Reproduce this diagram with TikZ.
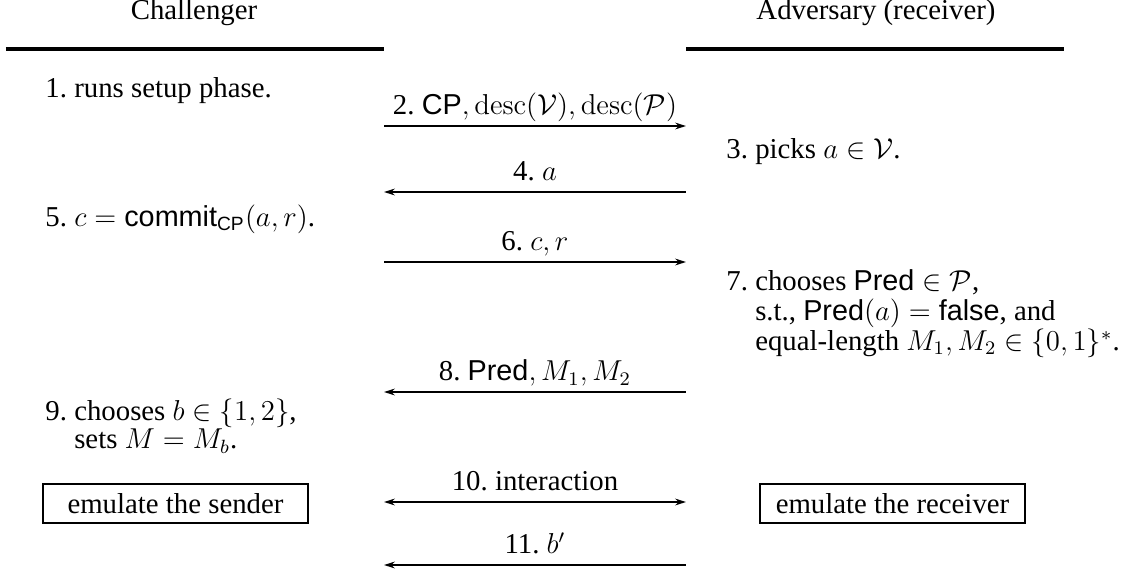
\documentclass[tikz,border=0pt]{standalone}
\usepackage{amsmath}
\usepackage[no-math]{fontspec}
\setmainfont{Liberation Serif}
\setsansfont{Liberation Sans}
\usetikzlibrary{arrows.meta, positioning}
\newcommand{\msf}[1]{\text{\sffamily #1}}
\frenchspacing

\begin{document}
\begin{tikzpicture}[
    x=0.4167pt, y=-0.4167pt,
    >={Stealth[length=4.5pt, width=2.8pt]},
    every node/.style={font=\fontsize{12}{12}\selectfont, inner sep=0pt},
    party/.style={anchor=base},
    stepitem/.style={anchor=base west},
    headline/.style={line width=1.4pt},
    msg/.style={line width=0.8pt},
    msglabel/.style={anchor=base, yshift=4.6pt},
    role/.style={draw, line width=0.8pt, minimum width=110.4pt, minimum height=16.2pt}
]
\useasboundingbox (0,0) rectangle (1142,579);

% Parties
\node[party] (chal) at (194,19.5) {Challenger};
\node[party] (adv) at (876,19.5) {Adversary (receiver)};

\coordinate (chalL) at (6,49);
\coordinate (chalR) at (384,49);
\coordinate (advL) at (686,49);
\coordinate (advR) at (1064,49);
\draw[headline] (chalL) -- (chalR);
\draw[headline] (advL) -- (advR);

% Steps of the challenger and the adversary
\node[stepitem] (s1) at (45,97) {1. runs setup phase.};
\node[stepitem] (s3) at (726,158) {3. picks $a \in \mathcal{V}$.};
\node[stepitem] (s5) at (45,226) {5. $c = \msf{commit}_{\msf{CP}}(a,r)$.};
\node[stepitem] (s7) at (726,290) {7. \begin{tabular}[t]{@{}l@{}}
    chooses $\msf{Pred} \in \mathcal{P}$,\\
    s.t., $\msf{Pred}(a) = \msf{false}$, and\\
    equal-length $M_1, M_2 \in \{0,1\}^*$.
  \end{tabular}};
\node[stepitem] (s9) at (45,420) {9. \begin{tabular}[t]{@{}l@{}}
    chooses $b \in \{1,2\}$,\\
    sets $M = M_b$.
  \end{tabular}};

% Emulation boxes
\node[role] (sender) at (175.5,503.5) {emulate the sender};
\node[role] (receiver) at (892.5,503.5) {emulate the receiver};

% Messages
\coordinate (m2l) at (384,126);
\coordinate (m2r) at (686,126);
\coordinate (m4l) at (384,192);
\coordinate (m4r) at (686,192);
\coordinate (m6l) at (384,262);
\coordinate (m6r) at (686,262);
\coordinate (m8l) at (384,392);
\coordinate (m8r) at (686,392);
\coordinate (m10l) at (384,502);
\coordinate (m10r) at (686,502);
\coordinate (m11l) at (384,565);
\coordinate (m11r) at (686,565);

\draw[msg, ->] (m2l) -- node[msglabel] {2. $\msf{CP}, \mathrm{desc}(\mathcal{V}), \mathrm{desc}(\mathcal{P})$} (m2r);
\draw[msg, <-] (m4l) -- node[msglabel] {4. $a$} (m4r);
\draw[msg, ->] (m6l) -- node[msglabel] {6. $c, r$} (m6r);
\draw[msg, <-] (m8l) -- node[msglabel] {8. $\msf{Pred}, M_1, M_2$} (m8r);
\draw[msg, <->] (m10l) -- node[msglabel] {10. interaction} (m10r);
\draw[msg, <-] (m11l) -- node[msglabel] {11. $b'$} (m11r);

\end{tikzpicture}
\end{document}
